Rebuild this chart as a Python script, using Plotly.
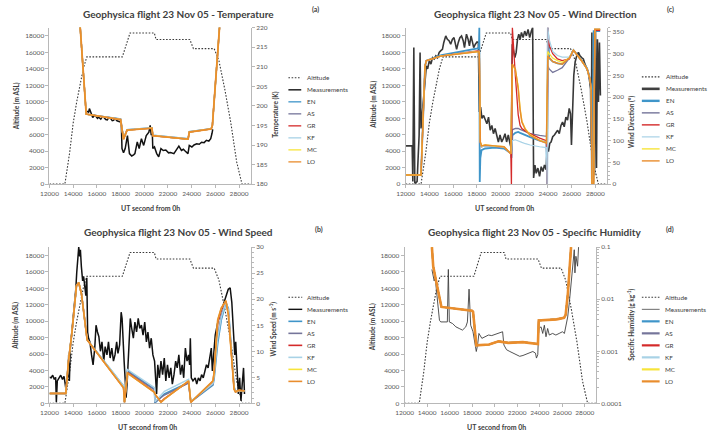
import plotly.graph_objects as go

W, H = 708, 446
FONT = "Lato"

# ---------------- data ----------------
series_names = ["Altitude", "Measurements", "EN", "AS", "GR", "KF", "MC", "LO"]
x_ticks = [12000, 14000, 16000, 18000, 20000, 22000, 24000, 26000, 28000]

# Flight altitude (m ASL), shared by all panels
alt_time = [12000, 13300, 13700, 14000, 14300, 14600, 14850, 15150, 18150, 18800, 20850, 21000,
            23850, 24150, 25900, 26300, 26800, 27300, 27800, 28250, 29000]
alt_m = [0, 0, 3800, 7400, 10000, 12200, 14000, 15450, 15450, 18350, 18350, 17550,
         17550, 16450, 16450, 15000, 11500, 7500, 2700, 0, 0]

# (a) Temperature (K)
temp_meas_t = [15180, 15300, 15370, 15500, 15650, 15800, 15900, 16050, 16150, 16330, 16450, 16600, 16750, 16880,
               17000, 17150, 17300, 17400, 17550, 17700, 17900, 18060, 18120, 18250, 18390, 18480, 18580, 18750,
               18940, 19100, 19210, 19410, 19570, 19760, 19950, 20170, 20390, 20500, 20590, 20670, 20720, 20860,
               21050, 21220, 21410, 21600, 21820, 22050, 22230, 22500, 22780, 22920, 23140, 23300, 23470, 23690,
               23800, 24020, 24200, 24430, 24640, 24840, 25050, 25250, 25450, 25610, 25720, 25780]
temp_meas = [198.7, 198.3, 199.3, 198.0, 197.0, 197.6, 197.4, 196.8, 197.1, 196.6, 197.2, 197.0, 196.5, 196.4,
             197.0, 196.8, 196.2, 196.3, 196.7, 196.2, 196.0, 195.8, 189.1, 188.0, 189.1, 190.5, 192.4, 187.8,
             187.2, 187.5, 187.8, 190.8, 189.1, 191.6, 189.9, 192.4, 193.3, 195.0, 192.5, 194.1, 189.1, 189.5,
             187.8, 187.0, 189.1, 188.6, 188.7, 188.0, 188.1, 187.8, 189.1, 189.7, 188.6, 188.9, 188.4, 187.8,
             189.9, 189.5, 190.0, 190.3, 190.2, 190.7, 190.6, 191.2, 191.0, 191.6, 193.0, 194.0]
temp_mod_t = [14550, 15100, 18000, 18250, 18550, 20650, 20720, 23700, 23800, 25650, 25750, 26400]
temp_en = [222.0, 197.9, 196.7, 191.8, 193.9, 194.4, 192.5, 191.6, 193.4, 194.2, 195.0, 222.0]
temp_as = [222.0, 197.9, 196.6, 191.6, 193.8, 194.3, 192.4, 191.5, 193.3, 194.1, 195.0, 222.0]
temp_gr = [222.0, 197.9, 196.5, 191.5, 193.8, 194.3, 192.4, 191.5, 193.3, 194.1, 195.0, 222.0]
temp_kf = [222.0, 197.9, 196.6, 191.7, 193.9, 194.4, 192.5, 191.6, 193.4, 194.2, 195.0, 222.0]
temp_mc = [222.0, 197.9, 196.5, 191.5, 193.8, 194.3, 192.4, 191.5, 193.3, 194.1, 195.0, 222.0]
temp_lo = [222.0, 197.9, 196.5, 191.5, 193.8, 194.3, 192.4, 191.5, 193.3, 194.1, 195.0, 222.0]

# (c) Wind direction (deg)
wd_meas_t = [12000, 12555, 12610, 12694, 12777, 12970, 13140, 13220, 13300, 13415, 13525, 13640, 13750, 13860,
             14000, 14135, 14275, 14410, 14550, 14690, 14830, 14970, 15105, 15220, 15300, 15385, 15520, 15660,
             15800, 15940, 16080, 16215, 16300, 16440, 16575, 16715, 16855, 16965, 17130, 17270, 17380, 17520,
             17630, 17740, 17880, 18020, 18130, 18215, 18325, 18435, 18575, 18715, 18850, 18990, 19130, 19270,
             19405, 19545, 19685, 19820, 19960, 20100, 20240, 20380, 20515, 20655, 20795, 20905, 20990, 21100,
             21210, 21320, 21430, 21540, 21655, 21765, 21905, 22040, 22180, 22320, 22460, 22600, 22710, 22790,
             22900, 23010, 23150, 23290, 23430, 23570, 23705, 23845, 23930, 24040, 24150, 24260, 24400, 24540,
             24680, 24815, 24955, 25095, 25230, 25370, 25510, 25650, 25790, 25900, 25980, 26065, 26175, 26285,
             26425, 26565, 26700, 26840, 26980, 27120, 27255, 27395, 27505, 27590, 27645, 27700, 27755, 27840,
             27920, 28005, 28090, 28170, 28255, 28340, 28420]
wd_meas = [88, 88, 6, 314, 2, 6, 113, 303, 128, 166, 196, 234, 272, 265, 284, 276, 291, 288, 295, 291,
           303, 307, 310, 326, 337, 341, 333, 330, 322, 333, 337, 322, 310, 326, 337, 341, 330, 314, 345, 333,
           318, 341, 326, 314, 322, 327, 326, 166, 177, 151, 158, 147, 139, 154, 124, 135, 116, 128, 109, 97,
           113, 97, 105, 116, 97, 113, 94, 82, 322, 303, 291, 303, 333, 345, 333, 349, 337, 352, 341, 356,
           337, 352, 360, 14, 44, 25, 37, 18, 40, 29, 44, 33, 82, 75, 94, 97, 109, 113, 120, 124,
           116, 135, 143, 132, 154, 147, 174, 162, 90, 189, 250, 280, 295, 303, 295, 291, 288, 276, 265, 257,
           238, 219, 97, 349, 52, 265, 21, 356, 37, 333, 189, 326, 204]
wd_mod_t = [12000, 13300, 13640, 13750, 15020, 18075, 18180, 18215, 18250, 18300, 18400, 18700, 19500, 20300,
            20650, 20870, 20920, 21000, 21250, 21490, 21650, 21800, 22100, 22500, 23300, 23870, 23930, 23990,
            24100, 24400, 24800, 25200, 25800, 26150, 26800, 27300, 27550, 27650, 27700, 27850, 27950, 28400]
wd_en = [21, 21, 272, 284, 297, 312, 315, 360, 5, 60, 78, 82, 84, 82, 75, 72, 60, 112, 118, 120, 118, 116,
         112, 108, 100, 96, 0, 360, 290, 282, 278, 276, 290, 308, 286, 266, 242, 218, 10, 352, 352, 352]
wd_as = [21, 21, 272, 284, 295, 305, 306, 302, 200, 95, 86, 88, 87, 85, 76, 72, 90, 125, 128, 128, 126, 124,
         120, 116, 112, 110, 150, 272, 265, 257, 262, 268, 290, 308, 285, 265, 240, 215, 0, 0, 356, 356]
wd_gr = [21, 21, 272, 284, 295, 305, 307, 302, 200, 95, 86, 89, 87, 85, 76, 70, 0, 360, 250, 160, 135, 128,
         122, 116, 106, 100, 0, 360, 320, 300, 288, 284, 288, 308, 285, 265, 240, 215, 5, 5, 354, 354]
wd_kf = [21, 21, 272, 284, 295, 305, 306, 302, 200, 95, 86, 88, 87, 85, 76, 72, 80, 100, 102, 100, 98, 96,
         93, 90, 86, 84, 0, 360, 333, 305, 296, 292, 292, 308, 285, 265, 240, 215, 0, 0, 356, 356]
wd_mc = [21, 21, 272, 284, 295, 304, 305, 300, 200, 97, 88, 90, 88, 86, 76, 70, 150, 276, 262, 225, 175, 145,
         127, 114, 101, 95, 200, 305, 300, 290, 284, 280, 290, 308, 285, 265, 240, 215, 0, 0, 356, 356]
wd_lo = [21, 21, 272, 284, 295, 304, 305, 300, 200, 97, 88, 90, 88, 86, 76, 70, 150, 276, 265, 219, 170, 143,
         125, 112, 100, 94, 200, 295, 291, 282, 278, 276, 290, 308, 285, 265, 240, 215, 0, 0, 356, 356]

# (b) Wind speed (m/s)
ws_meas_t = [12000, 12140, 12270, 12410, 12520, 12580, 12660, 12800, 12950, 13100, 13230, 13370, 13500, 13590,
             13620, 13680, 13760, 13870, 13960, 14030, 14130, 14220, 14300, 14390, 14470, 14550, 14610, 14690,
             14800, 14880, 14990, 15070, 15150, 15220, 15300, 15410, 15550, 15680, 15820, 15930, 16050, 16170,
             16300, 16430, 16580, 16700, 16850, 16980, 17120, 17260, 17400, 17530, 17670, 17780, 17920, 18050,
             18130, 18220, 18300, 18380, 18470, 18550, 18650, 18740, 18820, 18940, 19080, 19210, 19350, 19490,
             19620, 19760, 19900, 20040, 20180, 20310, 20450, 20590, 20730, 20870, 20950, 21040, 21140, 21280,
             21410, 21550, 21690, 21820, 21960, 22100, 22240, 22370, 22510, 22650, 22780, 22920, 23060, 23200,
             23330, 23470, 23610, 23740, 23830, 23890, 23970, 24110, 24300, 24430, 24570, 24710, 24840, 24980,
             25120, 25250, 25390, 25530, 25660, 25750, 25860, 25990, 26210, 26430, 26650, 26870, 27090, 27250,
             27390, 27530, 27640, 27720, 27830, 27940, 28050, 28160, 28270, 28380, 28460]
ws_meas = [5.0, 4.9, 5.4, 4.6, 5.0, 0.2, 4.3, 4.9, 5.4, 4.6, 5.2, 3.0, 4.9, 5.9, 9.3, 4.3, 10.6, 13.1,
           15.6, 17.8, 20.0, 21.9, 25.1, 28.5, 30.0, 28.2, 29.5, 26.3, 23.5, 24.4, 21.9, 20.7, 24.1, 13.7,
           12.5, 11.8, 9.3, 7.4, 10.6, 15.0, 13.7, 12.8, 10.0, 11.8, 8.1, 10.9, 9.3, 11.8, 8.7, 10.6, 8.1,
           9.3, 11.8, 9.6, 11.2, 17.5, 16.3, 13.1, 8.1, 4.9, 1.1, 3.7, 8.1, 10.6, 16.3, 14.4, 12.5, 15.6,
           13.7, 16.3, 14.4, 15.0, 13.1, 15.6, 11.8, 13.7, 10.6, 12.5, 9.3, 8.1, 4.9, 1.8, 7.4, 4.9, 8.1,
           5.5, 8.7, 4.3, 7.4, 4.9, 6.8, 3.7, 5.5, 8.1, 6.8, 9.3, 5.5, 7.4, 4.9, 10.6, 8.1, 9.3, 7.4, 12.5,
           4.9, 4.3, 4.9, 3.7, 4.9, 4.3, 5.5, 4.9, 6.2, 7.4, 6.8, 9.3, 10.6, 6.2, 9.3, 13.1, 15.6, 17.5,
           18.8, 20.4, 21.9, 22.2, 19.4, 13.7, 9.3, 11.8, 6.2, 1.8, 4.9, 0.5, 3.7, 6.8, 1.8]
ws_mod_t = [12000, 13380, 13600, 13900, 14280, 14470, 14700, 14960, 15180, 18250, 18330, 18580, 20860, 20900,
            21410, 21700, 23740, 23930, 25800, 25900, 26200, 26500, 26890, 27100, 27580, 27700, 28000, 28460]
ws_en = [1.9, 1.9, 8.0, 13.7, 22.6, 23.2, 21.0, 15.6, 12.2, 3.3, 0.2, 6.3, 2.7, 0.1, 1.2, 1.8, 4.0, 0.3,
         3.5, 4.8, 11.5, 16.0, 19.3, 18.2, 3.2, 2.3, 2.4, 2.4]
ws_as = [1.9, 1.9, 8.0, 13.7, 22.6, 23.2, 21.0, 15.6, 12.2, 3.2, 0.2, 6.1, 2.6, 0.2, 1.0, 1.6, 3.9, 0.3,
         3.7, 5.3, 13.0, 17.0, 19.5, 17.8, 3.0, 2.2, 2.4, 2.4]
ws_gr = [1.9, 1.9, 8.0, 13.7, 22.6, 23.2, 21.0, 15.6, 12.2, 3.0, 0.2, 5.9, 2.2, 1.7, 0.3, 0.9, 4.2, 0.2,
         4.2, 6.0, 15.5, 18.0, 19.6, 17.2, 2.8, 2.2, 2.5, 2.4]
ws_kf = [1.9, 1.9, 8.0, 13.7, 22.6, 23.2, 21.0, 15.6, 12.2, 3.4, 0.3, 6.5, 3.0, 0.3, 1.6, 2.3, 4.6, 0.4,
         3.8, 5.2, 12.5, 16.5, 19.4, 18.0, 3.1, 2.3, 2.4, 2.4]
ws_mc = [1.9, 1.9, 8.0, 13.7, 22.6, 23.2, 21.0, 15.6, 12.2, 3.0, 0.2, 5.8, 2.1, 1.8, 0.2, 0.8, 4.3, 0.2,
         4.3, 6.0, 16.0, 18.3, 19.7, 17.0, 2.7, 2.2, 2.5, 2.4]
ws_lo = [1.9, 1.9, 8.0, 13.7, 22.6, 23.2, 21.0, 15.6, 12.2, 3.0, 0.2, 5.8, 2.1, 1.8, 0.2, 0.8, 4.3, 0.2,
         4.3, 6.0, 16.0, 18.3, 19.7, 17.0, 2.7, 2.2, 2.5, 2.4]

# (d) Specific humidity (g/kg)
q_meas_t = [14424, 14511, 14628, 14716, 14803, 14949, 15095, 15212, 15504, 15796, 15884, 15971, 16263, 16555,
            16847, 17139, 17431, 17577, 17723, 17869, 18074, 18249, 18366, 18482, 18599, 18862, 19154, 19446,
            19738, 20030, 20322, 20614, 20702, 20818, 21052, 21344, 21636, 21928, 22220, 22512, 22804, 23096,
            23388, 23622, 23709, 23826, 23914, 24118, 24264, 24410, 24556, 24702, 24848, 25140, 25432, 25724,
            26016, 26191, 26337, 26483, 26629, 26775, 26921, 27067, 27126, 27213, 27359, 27447]
q_meas = [0.0373, 0.030, 0.0224, 0.0259, 0.0156, 0.00755, 0.00393, 0.00366, 0.0036, 0.00366, 0.0373, 0.00366,
          0.0034, 0.00294, 0.00274, 0.00255, 0.00294, 0.00366, 0.0156, 0.00316, 0.00237, 0.00153, 0.00099,
          0.00132, 0.0022, 0.00177, 0.0019, 0.00205, 0.0020, 0.0021, 0.0022, 0.00237, 0.00237, 0.00132,
          0.00107, 0.00099, 0.00092, 0.00086, 0.0008, 0.00083, 0.00088, 0.00092, 0.00099, 0.00092, 0.00074,
          0.00086, 0.00274, 0.00294, 0.0022, 0.00316, 0.0019, 0.00274, 0.00205, 0.0022, 0.00205, 0.0022,
          0.00237, 0.0022, 0.00316, 0.00455, 0.00873, 0.018, 0.0373, 0.089, 0.032, 0.0667, 0.043, 0.1]
q_mod_t = [14424, 14540, 14800, 15270, 17990, 18080, 18370, 19500, 20350, 21200, 22500, 23840, 23910, 25500,
           26160, 26300, 26500, 26650, 26780]
q_lo = [0.1, 0.043, 0.022, 0.0071, 0.0060, 0.0057, 0.0013, 0.00135, 0.00155, 0.00145, 0.0015, 0.00138,
        0.0039, 0.0041, 0.0044, 0.0050, 0.013, 0.035, 0.1]
q_en = q_lo
q_as = q_lo
q_gr = q_lo
q_kf = q_lo
q_mc = q_lo
q_minor = [2e-4, 3e-4, 4e-4, 5e-4, 6e-4, 7e-4, 8e-4, 9e-4, 2e-3, 3e-3, 4e-3, 5e-3, 6e-3, 7e-3, 8e-3, 9e-3,
           2e-2, 3e-2, 4e-2, 5e-2, 6e-2, 7e-2, 8e-2, 9e-2]

# ---------------- styling ----------------
ALT_C = "#3a3a3a"
ALT_DASH = "1.6px,1.6px"
COLORS = {"EN": "#3f95c9", "AS": "#75759a", "GR": "#d42a2a", "KF": "#a8d2e6", "MC": "#f7e43a", "LO": "#e98d2d"}
AX_C = "#b8b8b8"
TXT_C = "#404040"
TICK_C = "#595959"


def px(x):
    return x / W


def py(y):
    return 1 - y / H


fig = go.Figure()


def line(xa, ya, x, y, color, width, dash="solid"):
    fig.add_trace(go.Scatter(x=x, y=y, mode="lines", xaxis=xa, yaxis=ya, showlegend=False,
                             hoverinfo="skip", line=dict(color=color, width=width, dash=dash)))


panels = [
    dict(xa="x", yl="y", yr="y2", meas=(temp_meas_t, temp_meas), mod_t=temp_mod_t,
         mods=[temp_en, temp_as, temp_gr, temp_kf, temp_mc, temp_lo],
         meas_c="#111111", meas_w=1.5, mod_w=[1.4, 1.4, 1.4, 1.4, 1.4, 1.8]),
    dict(xa="x2", yl="y3", yr="y4", meas=(wd_meas_t, wd_meas), mod_t=wd_mod_t,
         mods=[wd_en, wd_as, wd_gr, wd_kf, wd_mc, wd_lo],
         meas_c="#383838", meas_w=1.6, mod_w=[1.8, 1.3, 1.3, 1.2, 1.3, 1.5]),
    dict(xa="x3", yl="y5", yr="y6", meas=(ws_meas_t, ws_meas), mod_t=ws_mod_t,
         mods=[ws_en, ws_as, ws_gr, ws_kf, ws_mc, ws_lo],
         meas_c="#111111", meas_w=1.5, mod_w=[1.6, 1.4, 1.4, 1.4, 1.4, 1.7]),
    dict(xa="x4", yl="y7", yr="y8", meas=(q_meas_t, q_meas), mod_t=q_mod_t,
         mods=[q_en, q_as, q_gr, q_kf, q_mc, q_lo],
         meas_c="#404040", meas_w=0.9, mod_w=[1.5, 1.5, 1.5, 1.5, 1.5, 2.6]),
]

for p in panels:
    line(p["xa"], p["yl"], alt_time, alt_m, ALT_C, 1.1, ALT_DASH)
    line(p["xa"], p["yr"], p["meas"][0], p["meas"][1], p["meas_c"], p["meas_w"])
    for name, ys, w in zip(series_names[2:], p["mods"], p["mod_w"]):
        line(p["xa"], p["yr"], p["mod_t"], ys, COLORS[name], w)

tickfont = dict(family=FONT, size=6.5, color=TICK_C)
common = dict(showgrid=False, zeroline=False, showline=True, linecolor=AX_C, linewidth=1,
              ticks="outside", ticklen=3, tickcolor=AX_C, tickfont=tickfont)


def xaxis(x0, x1, anchor):
    return dict(domain=[px(x0), px(x1)], anchor=anchor, range=[12000, 29000], tickmode="array",
                tickvals=x_ticks, ticktext=[str(v) for v in x_ticks], **common)


def yleft(y0, y1, anchor):
    return dict(domain=[py(y1), py(y0)], anchor=anchor, range=[0, 19000], dtick=2000, tick0=0,
                tickformat="d", **common)


layout = dict(
    width=W, height=H, margin=dict(l=0, r=0, t=0, b=0), paper_bgcolor="white", plot_bgcolor="white",
    font=dict(family=FONT, color=TXT_C),
    xaxis=xaxis(41, 245, "y"), yaxis=yleft(24, 183, "x"),
    yaxis2=dict(overlaying="y", side="right", anchor="x", range=[180, 220], dtick=5, tick0=180, **common),
    xaxis2=xaxis(401.7, 606, "y3"), yaxis3=yleft(24, 183, "x2"),
    yaxis4=dict(overlaying="y3", side="right", anchor="x2", range=[0, 360], dtick=50, tick0=0,
                minor=dict(ticks="outside", ticklen=2, tickcolor=AX_C, dtick=10), **common),
    xaxis3=xaxis(41, 245, "y5"), yaxis5=yleft(247, 405.7, "x3"),
    yaxis6=dict(overlaying="y5", side="right", anchor="x3", range=[0, 30], dtick=5, tick0=0,
                minor=dict(ticks="outside", ticklen=2, tickcolor=AX_C, dtick=1), **common),
    xaxis4=xaxis(400.7, 594.6, "y7"), yaxis7=yleft(247, 405.7, "x4"),
    yaxis8=dict(overlaying="y7", side="right", anchor="x4", type="log", range=[-4, -1], tickmode="array",
                tickvals=[0.0001, 0.001, 0.01, 0.1], ticktext=["0.0001", "0.001", "0.01", "0.1"],
                minor=dict(ticks="outside", ticklen=2, tickcolor=AX_C, tickmode="array", tickvals=q_minor),
                **common),
)
fig.update_layout(**layout)

# ---------------- titles and labels ----------------
ann = []


def text(x, y, s, size, bold=False, angle=0, xanchor="center"):
    ann.append(dict(xref="paper", yref="paper", x=px(x), y=py(y), text=("<b>%s</b>" % s) if bold else s,
                    showarrow=False, textangle=angle, xanchor=xanchor, yanchor="middle",
                    font=dict(family=FONT, size=size, color=TXT_C)))


titles = [
    (172, 10, "Geophysica flight 23 Nov 05 - Temperature", 310, 6, "(a)"),
    (533, 10, "Geophysica flight 23 Nov 05 - Wind Direction", 670, 6, "(c)"),
    (172, 232, "Geophysica flight 23 Nov 05 - Wind Speed", 314, 229, "(b)"),
    (533, 232, "Geophysica flight 23 Nov 05 - Specific Humidity", 670, 229, "(d)"),
]
for tx, ty, t, lx, ly, lab in titles:
    text(tx, ty, t, 10, bold=True)
    text(lx, ly, lab, 7, bold=True)

for cx, cy in [(143, 207), (502, 207), (140, 430), (494, 430)]:
    text(cx, cy, "UT second from 0h", 7, bold=True)
for cx, cy in [(7, 104), (369, 102), (7, 327), (369, 328)]:
    text(cx, cy, "Altitude (m ASL)", 6.5, bold=True, angle=-90)
text(270, 112, "Temperature (K)", 6.5, bold=True, angle=-90)
text(630, 119, "Wind Direction (°)", 6.5, bold=True, angle=-90)
text(268, 330, "Wind Speed (m s<sup>-1</sup>)", 6.5, bold=True, angle=-90)
text(631, 326, "Specific Humidity (g kg<sup>-1</sup>)", 6.5, bold=True, angle=-90)

# ---------------- manual legends ----------------
shapes = []
legend_spec = [
    # line x0, x1, text x, first row y, measurement style, model widths
    (283, 296, 300, 75, ("#111111", 1.4), [1.3] * 6),
    (641, 659, 663, 74, ("#404040", 2.6), [2.4, 1.4, 1.4, 1.2, 1.4, 1.4]),
    (283, 297, 300, 298, ("#111111", 1.4), [1.6] * 6),
    (641, 659, 662, 298, ("#6a6a6a", 1.0), [2.2] * 6),
]
for x0, x1, tx, y0, (mc, mw), widths in legend_spec:
    for i, name in enumerate(series_names):
        y = y0 + 12.2 * i
        if name == "Altitude":
            col, w, dash = ALT_C, 1.1, ALT_DASH
        elif name == "Measurements":
            col, w, dash = mc, mw, "solid"
        else:
            col, w, dash = COLORS[name], widths[i - 2], "solid"
        shapes.append(dict(type="line", xref="paper", yref="paper", x0=px(x0), x1=px(x1), y0=py(y), y1=py(y),
                           line=dict(color=col, width=w, dash=dash)))
        text(tx, y, name, 6.3, xanchor="left")

fig.update_layout(annotations=ann, shapes=shapes)
fig.write_html("out.html")
